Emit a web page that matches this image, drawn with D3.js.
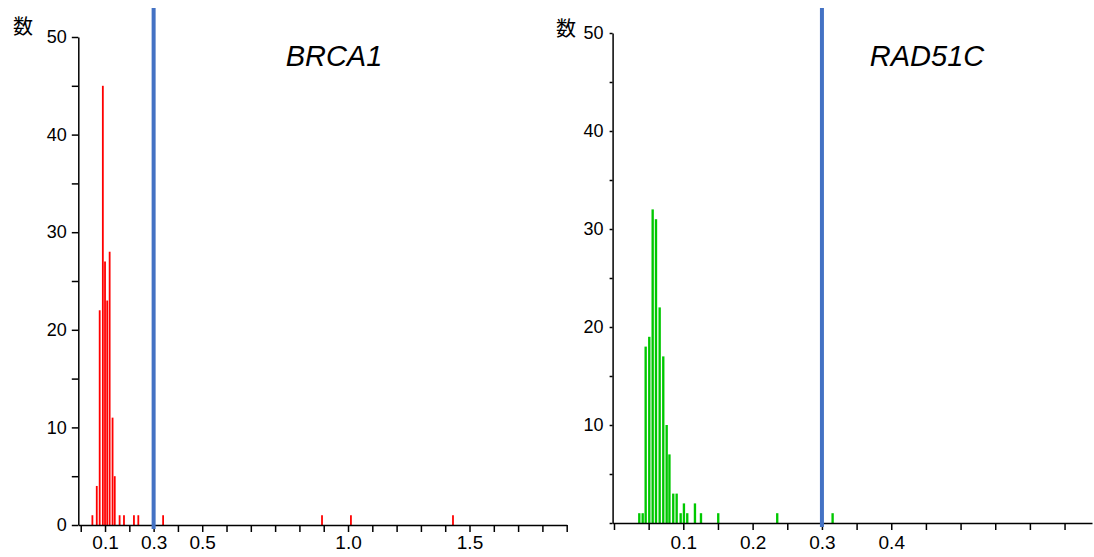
<!DOCTYPE html>
<html>
<head>
<meta charset="utf-8">
<script src="https://cdn.jsdelivr.net/npm/d3@7"></script>
<style>
  body { margin: 0; background: #fff; }
  .tick text { font-family: "Liberation Sans", Arial, sans-serif; fill: #000; }
  .domain, .tick line { stroke: #000; stroke-width: 1.5; }
</style>
</head>
<body>
<div id="chart"></div>
<script>
// BRCA1 histogram (bin centre, count)
const brcaBins   = [0.048, 0.066, 0.078, 0.091, 0.100, 0.109, 0.119, 0.131, 0.140, 0.160, 0.178, 0.219, 0.237, 0.339, 0.993, 1.112, 1.532];
const brcaCounts = [1,     4,     22,    45,    27,    23,    28,    11,    5,     1,     1,     1,     1,     1,     1,     1,     1];
const brcaTickAt     = [0.1, 0.3, 0.5, 1.1, 1.6];
const brcaTickLabels = ["0.1", "0.3", "0.5", "1.0", "1.5"];

// RAD51C histogram
const radBins   = [0.0365, 0.0414, 0.0457, 0.0509, 0.0558, 0.0606, 0.0659, 0.0711, 0.0760, 0.0800, 0.0855, 0.0904, 0.0962, 0.1009, 0.1057, 0.1168, 0.1255, 0.1504, 0.2355, 0.3154];
const radCounts = [1,      1,      18,     19,     32,     31,     22,     17,     10,     7,      3,      3,      1,      2,      1,      2,      1,      1,      1,      1];
const radTickAt     = [0.1, 0.2, 0.3, 0.4];
const radTickLabels = ["0.1", "0.2", "0.3", "0.4"];

const threshold = 0.3;
const yMajor = [0, 10, 20, 30, 40, 50];

const svg = d3.select("#chart").append("svg")
    .attr("width", 1094)
    .attr("height", 557);

function drawPanel(p) {
    const g = svg.append("g");
    const x = d3.scaleLinear().domain(p.xDomain).range(p.xRange);
    const y = d3.scaleLinear().domain([0, 50]).range(p.yRange);

    // bars
    g.selectAll("rect.bar")
        .data(p.bins.map((b, i) => ({ b, c: p.counts[i] })))
        .join("rect")
        .attr("class", "bar")
        .attr("x", d => x(d.b - p.halfBar))
        .attr("width", x(p.halfBar * 2) - x(0))
        .attr("y", d => y(d.c))
        .attr("height", d => y(0) - y(d.c))
        .attr("fill", p.color);

    // x axis
    const xTicks = d3.range(0, p.xMaxTick + 1e-9, p.xStep);
    const xAxis = d3.axisBottom(x)
        .tickValues(xTicks)
        .tickSize(7)
        .tickSizeOuter(0)
        .tickPadding(p.xPad)
        .tickFormat(v => {
            const i = p.tickAt.findIndex(t => Math.abs(t - v) < 1e-6);
            return i >= 0 ? p.tickLabels[i] : "";
        });
    g.append("g")
        .attr("transform", `translate(0,${y(0)})`)
        .call(xAxis)
        .call(a => a.selectAll("text").attr("font-size", 19));

    // y axis
    const yAxis = d3.axisLeft(y)
        .tickValues(d3.range(0, 51, 5))
        .tickSize(p.yTick)
        .tickSizeOuter(0)
        .tickPadding(p.yPad)
        .tickFormat(v => (yMajor.includes(v) && !(p.hideZero && v === 0)) ? v : "");
    g.append("g")
        .attr("transform", `translate(${x(p.xDomain[0])},0)`)
        .call(yAxis)
        .call(a => a.selectAll("text").attr("font-size", 18));

    // threshold line
    g.append("line")
        .attr("x1", x(threshold)).attr("x2", x(threshold))
        .attr("y1", 8).attr("y2", y(0) + 4)
        .attr("stroke", "#4472c4")
        .attr("stroke-width", 4);

    // title
    g.append("text")
        .attr("x", p.titleX).attr("y", 66)
        .attr("text-anchor", "middle")
        .attr("font-family", "Liberation Sans, Arial, sans-serif")
        .attr("font-style", "italic")
        .attr("font-size", 29)
        .text(p.title);

    // y label
    g.append("text")
        .attr("x", p.labelX).attr("y", p.labelY)
        .attr("text-anchor", "middle")
        .attr("font-family", "Noto Sans CJK JP, sans-serif")
        .attr("font-size", 20)
        .text("数");
}

drawPanel({
    bins: brcaBins, counts: brcaCounts, color: "#ff0000", halfBar: 0.0037,
    xDomain: [-0.01, 2.0], xRange: [78.3, 566.7], xMaxTick: 2.0, xStep: 0.1, xPad: 4,
    yRange: [525, 37], yTick: 6.5, yPad: 5, hideZero: false,
    tickAt: brcaTickAt, tickLabels: brcaTickLabels,
    title: "BRCA1", titleX: 334, labelX: 23, labelY: 34
});

drawPanel({
    bins: radBins, counts: radCounts, color: "#00c800", halfBar: 0.0017,
    xDomain: [-0.002, 0.6896], xRange: [612.6, 1092], xMaxTick: 0.65, xStep: 0.05, xPad: 6,
    yRange: [523, 33], yTick: 3, yPad: 6, hideZero: true,
    tickAt: radTickAt, tickLabels: radTickLabels,
    title: "RAD51C", titleX: 927, labelX: 566, labelY: 36
});
</script>
</body>
</html>
